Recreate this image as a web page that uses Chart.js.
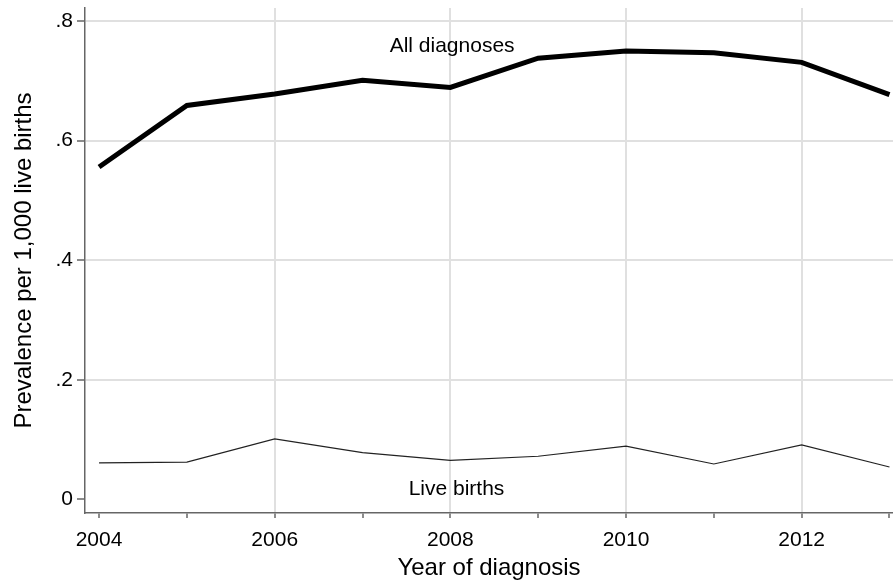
<!DOCTYPE html>
<html>
<head>
<meta charset="utf-8">
<script src="https://cdn.jsdelivr.net/npm/chart.js@4/dist/chart.umd.min.js"></script>
<style>
  html, body { margin: 0; padding: 0; background: #fff; }
  #wrap { width: 893px; height: 585px; }
</style>
</head>
<body>
<div id="wrap"><canvas id="chart"></canvas></div>
<script>
// ── Data ────────────────────────────────────────────
const years        = [2004, 2005, 2006, 2007, 2008, 2009, 2010, 2011, 2012, 2013];
const allDiagnoses = [0.556, 0.659, 0.678, 0.701, 0.689, 0.738, 0.750, 0.747, 0.731, 0.677];
const liveBirths   = [0.061, 0.062, 0.101, 0.078, 0.065, 0.072, 0.089, 0.059, 0.091, 0.054];

const yTicks = [0, 0.2, 0.4, 0.6, 0.8];
const yTickLabels = ['0', '.2', '.4', '.6', '.8'];
const xLabelled = [2004, 2006, 2008, 2010, 2012];
const xGridYears = [2006, 2008, 2010, 2012];

// in-plot series labels (data coordinates)
const seriesLabels = [
  { text: 'All diagnoses', x: 2008.02, y: 0.758 },
  { text: 'Live births',   x: 2008.07, y: 0.017 },
];

const FONT = '"Liberation Sans", Arial, sans-serif';
const AXIS = '#666';
const GRID = '#e0e0e0';

// ── Draw the text labels inside the plot ────────────
const labelPlugin = {
  id: 'seriesLabels',
  afterDatasetsDraw(chart) {
    const { ctx, scales: { x, y } } = chart;
    ctx.save();
    ctx.font = '21px ' + FONT;
    ctx.fillStyle = '#000';
    ctx.textAlign = 'center';
    ctx.textBaseline = 'middle';
    seriesLabels.forEach(l => ctx.fillText(l.text, x.getPixelForValue(l.x), y.getPixelForValue(l.y)));
    ctx.restore();
  }
};

new Chart(document.getElementById('chart'), {
  type: 'line',
  data: {
    datasets: [
      {
        label: 'All diagnoses',
        data: years.map((yr, i) => ({ x: yr, y: allDiagnoses[i] })),
        borderColor: '#000',
        borderWidth: 5,
        pointRadius: 0,
        tension: 0,
      },
      {
        label: 'Live births',
        data: years.map((yr, i) => ({ x: yr, y: liveBirths[i] })),
        borderColor: '#222',
        borderWidth: 1.2,
        pointRadius: 0,
        tension: 0,
      },
    ],
  },
  options: {
    responsive: true,
    maintainAspectRatio: false,
    animation: false,
    layout: { padding: { top: 8, right: 0, left: 0, bottom: 0 } },
    plugins: { legend: { display: false }, tooltip: { enabled: false } },
    scales: {
      x: {
        type: 'linear',
        min: 2003.84,
        max: 2013.04,
        afterBuildTicks: s => { s.ticks = years.map(v => ({ value: v })); },
        afterFit: s => { s.height = 72; s.paddingLeft = 0; s.paddingRight = 0; },
        ticks: {
          autoSkip: false,
          maxRotation: 0,
          color: '#000',
          font: { family: FONT, size: 21 },
          padding: 10,
          callback: v => xLabelled.includes(v) ? String(v) : '',
        },
        grid: {
          color: c => xGridYears.includes(c.tick && c.tick.value) ? GRID : 'rgba(0,0,0,0)',
          lineWidth: 2,
          tickColor: AXIS,
          tickWidth: 1.5,
          tickLength: 5,
        },
        border: { color: AXIS, width: 1.5 },
        title: {
          display: true,
          text: 'Year of diagnosis',
          color: '#000',
          font: { family: FONT, size: 24 },
          padding: { top: 0, bottom: 2 },
        },
      },
      y: {
        min: -0.023,
        max: 0.822,
        afterBuildTicks: s => { s.ticks = yTicks.map(v => ({ value: v })); },
        afterFit: s => { s.width = 85; s.paddingTop = 0; s.paddingBottom = 0; },
        ticks: {
          color: '#000',
          font: { family: FONT, size: 21 },
          padding: 4,
          callback: v => yTickLabels[yTicks.indexOf(v)],
        },
        grid: {
          color: c => (c.tick && c.tick.value > 0) ? GRID : 'rgba(0,0,0,0)',
          lineWidth: 2,
          tickColor: AXIS,
          tickWidth: 1.5,
          tickLength: 8,
        },
        border: { color: AXIS, width: 1.5 },
        title: {
          display: true,
          text: 'Prevalence per 1,000 live births',
          color: '#000',
          font: { family: FONT, size: 24 },
          padding: { top: 10, bottom: 0 },
        },
      },
    },
  },
  plugins: [labelPlugin],
});
</script>
</body>
</html>
